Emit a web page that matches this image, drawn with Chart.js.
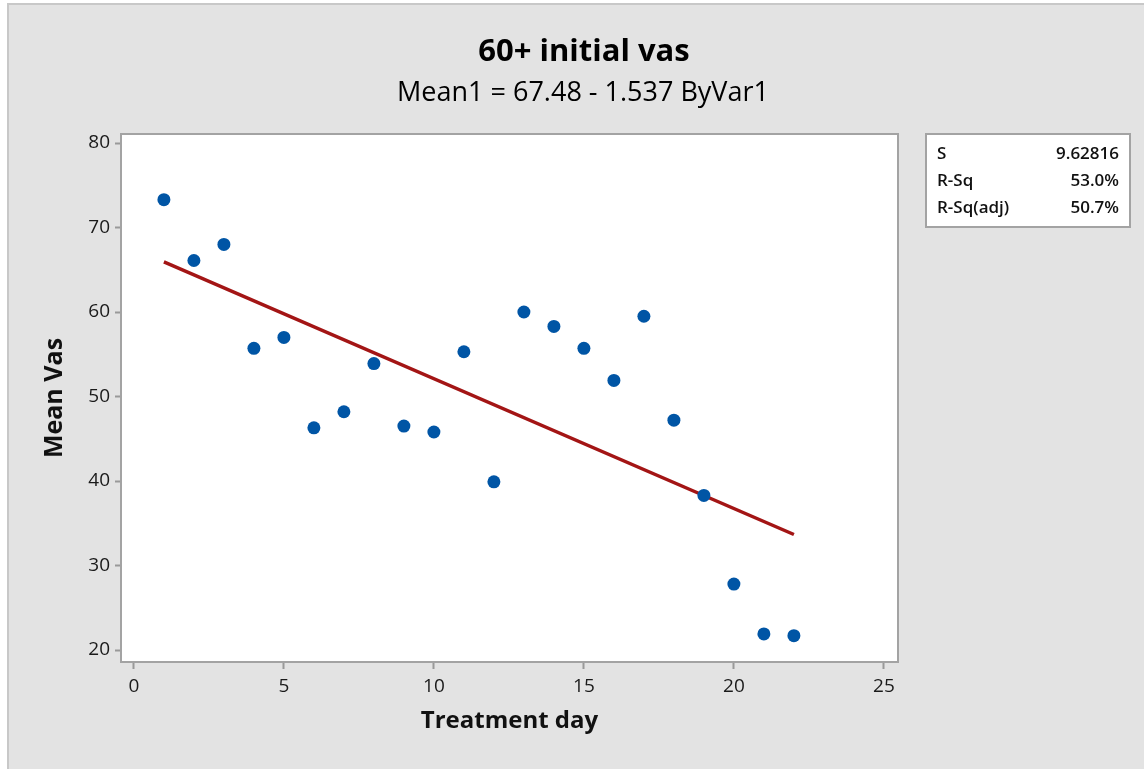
<!DOCTYPE html>
<html>
<head>
<meta charset="utf-8">
<script src="https://cdn.jsdelivr.net/npm/chart.js@4.4.1/dist/chart.umd.min.js"></script>
<style>
  html, body { margin: 0; padding: 0; background: #fff; }
  canvas { display: block; }
</style>
</head>
<body>
<canvas id="myChart" width="1144" height="769"></canvas>
<script>
// data
const days = [1, 2, 3, 4, 5, 6, 7, 8, 9, 10, 11, 12, 13, 14, 15, 16, 17, 18, 19, 20, 21, 22];
const meanVas = [73.3, 66.1, 68.0, 55.7, 57.0, 46.3, 48.2, 53.9, 46.5, 45.8, 55.3, 39.9,
                 60.0, 58.3, 55.7, 51.9, 59.5, 47.2, 38.3, 27.8, 21.9, 21.7];
// regression line end points
const fitDays = [1, 22];
const fitVas = [65.94, 33.67];

const titleText = '60+ initial vas';
const subtitleText = 'Mean1 = 67.48 - 1.537 ByVar1';
const statNames = ['S', 'R-Sq', 'R-Sq(adj)'];
const statValues = ['9.62816', '53.0%', '50.7%'];

const FONT = "'Open Sans', 'Noto Sans', sans-serif";

const ctx = document.getElementById('myChart');

const decor = {
  id: 'decor',
  beforeDraw(chart) {
    const c = chart.ctx;
    const a = chart.chartArea;
    c.save();
    c.fillStyle = '#fff';
    c.fillRect(0, 0, chart.width, chart.height);
    c.fillStyle = '#e3e3e3';
    c.fillRect(7, 3, chart.width - 7, chart.height - 3);
    c.strokeStyle = '#c8c8c8';
    c.lineWidth = 2;
    c.beginPath();
    c.moveTo(8, chart.height);
    c.lineTo(8, 4);
    c.lineTo(chart.width, 4);
    c.stroke();
    c.fillStyle = '#fff';
    c.fillRect(a.left, a.top, a.right - a.left, a.bottom - a.top);
    c.restore();
  },
  beforeDatasetsDraw(chart) {
    const c = chart.ctx;
    const a = chart.chartArea;
    c.save();
    c.strokeStyle = '#a3a3a3';
    c.lineWidth = 2;
    c.strokeRect(a.left, a.top, a.right - a.left, a.bottom - a.top);
    c.restore();
  },
  afterDraw(chart) {
    const c = chart.ctx;
    c.save();
    c.fillStyle = '#000';
    c.textAlign = 'center';
    c.textBaseline = 'middle';
    c.font = 'bold 31px ' + FONT;
    c.fillText(titleText, 584, 52);
    c.font = '27px ' + FONT;
    c.fillText(subtitleText, 583, 93);

    // stats box
    const bx = 926, by = 134, bw = 204, bh = 93;
    c.fillStyle = '#fff';
    c.fillRect(bx, by, bw, bh);
    c.strokeStyle = '#a3a3a3';
    c.lineWidth = 2;
    c.strokeRect(bx, by, bw, bh);
    c.font = '600 17px ' + FONT;
    c.fillStyle = '#111';
    statNames.forEach((name, i) => {
      const y = 154 + i * 27;
      c.textAlign = 'left';
      c.fillText(name, 937, y);
      c.textAlign = 'right';
      c.fillText(statValues[i], 1119, y);
    });
    c.restore();
  }
};

new Chart(ctx, {
  type: 'scatter',
  data: {
    datasets: [
      {
        type: 'line',
        data: fitDays.map((d, i) => ({ x: d, y: fitVas[i] })),
        borderColor: '#a31515',
        borderWidth: 3.5,
        pointRadius: 0,
        fill: false,
        order: 2
      },
      {
        data: days.map((d, i) => ({ x: d, y: meanVas[i] })),
        backgroundColor: '#0055a5',
        borderWidth: 0,
        pointRadius: 6.5,
        order: 1
      }
    ]
  },
  options: {
    responsive: false,
    animation: false,
    layout: { padding: { left: 0, top: 134, right: 246, bottom: 0 } },
    plugins: {
      legend: { display: false },
      tooltip: { enabled: false }
    },
    scales: {
      x: {
        type: 'linear',
        min: -0.43,
        max: 25.47,
        afterFit: s => { s.height = 107; },
        border: { display: false },
        grid: { drawOnChartArea: false, drawTicks: true, tickLength: 7, tickColor: '#999', tickWidth: 2 },
        ticks: { stepSize: 5, includeBounds: false, padding: 6, color: '#1a1a1a', font: { family: FONT, size: 19 } },
        title: {
          display: true,
          text: 'Treatment day',
          color: '#111',
          font: { family: FONT, size: 24, weight: 'bold' },
          padding: { top: 33, bottom: 33 }
        }
      },
      y: {
        type: 'linear',
        min: 18.58,
        max: 81.07,
        afterFit: s => { s.width = 121; },
        border: { display: false },
        grid: { drawOnChartArea: false, drawTicks: true, tickLength: 6, tickColor: '#999', tickWidth: 2 },
        ticks: { stepSize: 10, includeBounds: false, padding: 5, color: '#1a1a1a', font: { family: FONT, size: 19 } },
        title: {
          display: true,
          text: 'Mean Vas',
          color: '#111',
          font: { family: FONT, size: 25, weight: 'bold' },
          padding: { top: 40, bottom: 40 }
        }
      }
    }
  },
  plugins: [decor]
});
</script>
</body>
</html>
